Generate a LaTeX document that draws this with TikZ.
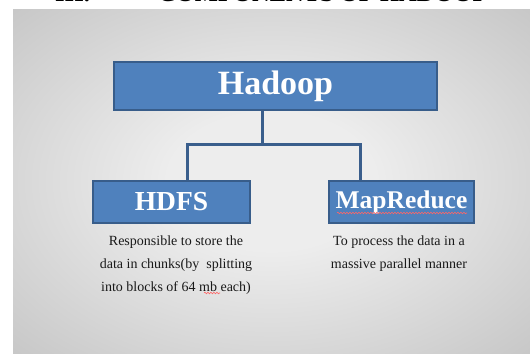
\documentclass[tikz,border=0pt]{standalone}
\usepackage{fontspec}
\setmainfont{Liberation Serif}
\usetikzlibrary{decorations.pathmorphing}

\definecolor{boxblue}{HTML}{4F81BD}
\definecolor{boxline}{HTML}{385D8A}
\definecolor{linkblue}{HTML}{3A5E8C}
\definecolor{slidemid}{HTML}{EDEDED}
\definecolor{slideside}{HTML}{B2B2B2}
\definecolor{slideedge}{HTML}{969696}

\pgfdeclareradialshading{slide}{\pgfpoint{0bp}{0bp}}{%
    color(0bp)=(slidemid); color(10bp)=(slidemid); color(50bp)=(slideside); color(72bp)=(slideedge)}

\begin{document}
\begin{tikzpicture}[%
        x=1pt, y=-1pt,
        comp/.style={
            % the shape:
            rectangle,
            inner sep=0pt,
            % the rest:
            line width=1.2pt,
            draw=boxline,
            fill=boxblue,
            text=white,
            font=\bfseries,
        },
        desc/.style={
            align=center,
            text=black!90,
            font=\fontsize{14}{23}\selectfont,
        },
        link/.style={
            line width=3pt,
            draw=linkblue,
        },
        squiggle/.style={
            red!60,
            line width=0.6pt,
            decorate,
            decoration={snake, segment length=3pt, amplitude=0.8pt},
        },
    ]

    % page and slide
    \fill[white] (0,0) rectangle (530,354);
    \useasboundingbox (0,0) rectangle (530,354);
    \shade[shading=slide] (13,9) rectangle (530,353);

    % heading, cut at the top
    \node[anchor=base west, inner sep=0pt, font=\fontsize{24.5}{24.5}\selectfont\bfseries] (num) at (55,1.2) {III.};
    \node[anchor=base west, inner sep=0pt, font=\fontsize{24.5}{24.5}\selectfont\bfseries] (title) at (158,1.2) {COMPONENTS OF HADOOP};

    % boxes
    \node[comp, minimum width=323pt, minimum height=48pt, font=\fontsize{34}{34}\selectfont\bfseries] (hadoop) at (275.5,86) {Hadoop};
    \node[comp, minimum width=157pt, minimum height=42pt, font=\fontsize{27.5}{27.5}\selectfont\bfseries] (hdfs) at (171.5,202) {HDFS};
    \node[comp, minimum width=145pt, minimum height=42pt, font=\fontsize{25.5}{25.5}\selectfont\bfseries] (mapred) at (401.5,202) {MapReduce};

    % connectors
    \coordinate (split) at (262,144);
    \coordinate (hl) at (187,144);
    \coordinate (hr) at (360,144);
    \draw[link] (hadoop.south -| split) -- (split);
    \draw[link, line join=miter] (hdfs.north -| hl) -- (hl) -- (hr) -- (mapred.north -| hr);

    % descriptions
    \node[desc] (hdfsdesc) at (176,265) {Responsible to store the\\data in chunks(by\ \ splitting\\into blocks of 64 mb each)};
    \node[desc] (mapreddesc) at (399,254) {To process the data in a\\massive parallel manner};

    % spell check marks
    \draw[squiggle] (337,213) -- (467,213);
    \draw[squiggle] (204,293) -- (220,293);

\end{tikzpicture}
\end{document}
